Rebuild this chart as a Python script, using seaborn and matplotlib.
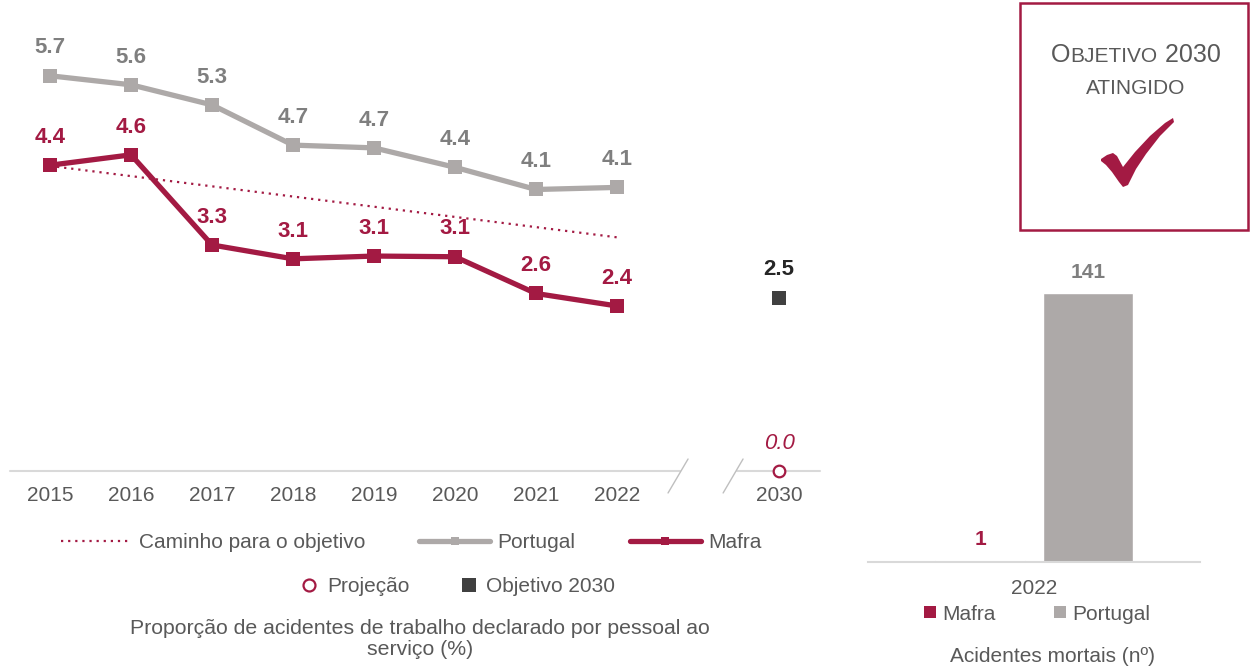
import matplotlib
matplotlib.use("Agg")
import matplotlib.pyplot as plt
import seaborn as sns
import pandas as pd
from matplotlib.lines import Line2D
from matplotlib.patches import Rectangle, Polygon
from matplotlib.offsetbox import TextArea, HPacker, AnnotationBbox

# data
years = ["2015", "2016", "2017", "2018", "2019", "2020", "2021", "2022"]
portugal = [5.70, 5.57, 5.28, 4.70, 4.66, 4.38, 4.06, 4.09]
mafra = [4.41, 4.56, 3.26, 3.06, 3.10, 3.09, 2.56, 2.38]
trend_years = ["2015", "2022"]
trend = [4.40, 3.37]
target_year = "2030"
target = [2.5]
projection = [0.0]

deaths_year = "2022"
deaths_series = ["Mafra", "Portugal"]
deaths = [1, 141]

CRIMSON = "#A31A43"
GRAY = "#ADA9A8"
LABEL_GRAY = "#7F7F7F"
DARK = "#404040"
TEXT = "#595959"
AXIS = "#D9D9D9"

W, H = 1253, 670


def main():
    sns.set_theme(style="white")
    plt.rcParams['font.family'] = ['Liberation Sans', 'DejaVu Sans']
    fig = plt.figure(figsize=(W / 100, H / 100), dpi=100)

    # x positions: one slot per year, 2030 after a break
    pos = {y: i for i, y in enumerate(years)}
    pos[target_year] = len(years) + 1
    xs = [pos[y] for y in years]

    # ---- main line chart ----
    ax = fig.add_axes([10 / W, (H - 471) / H, 810 / W, 450 / H])
    sns.lineplot(x=[pos[y] for y in trend_years], y=trend, ax=ax, color=CRIMSON,
                 lw=1.6, linestyle=(0, (1, 2.2)), zorder=2)
    sns.lineplot(x=xs, y=portugal, ax=ax, color=GRAY, lw=3.8, marker="s",
                 markersize=9.5, markeredgewidth=0, zorder=3)
    sns.lineplot(x=xs, y=mafra, ax=ax, color=CRIMSON, lw=3.8, marker="s",
                 markersize=9.5, markeredgewidth=0, zorder=4)
    sns.scatterplot(x=[pos[target_year]], y=target, ax=ax, marker="s", s=90,
                    color=DARK, linewidth=0, zorder=4)
    sns.scatterplot(x=[pos[target_year]], y=projection, ax=ax, marker="o", s=70,
                    color="white", edgecolor=CRIMSON, linewidth=1.6, zorder=5,
                    clip_on=False)

    lab = dict(textcoords="offset points", xytext=(0, 20), ha="center",
               va="center", fontsize=16, fontweight="bold")
    for x, v in zip(xs, portugal):
        ax.annotate(f"{v:.1f}", (x, v), color=LABEL_GRAY, **lab)
    for x, v in zip(xs, mafra):
        ax.annotate(f"{v:.1f}", (x, v), color=CRIMSON, **lab)
    ax.annotate(f"{target[0]:.1f}", (pos[target_year], target[0]), color="#262626", **lab)
    ax.annotate(f"{projection[0]:.1f}", (pos[target_year], projection[0]),
                textcoords="offset points", xytext=(0, 20), ha="center", va="center",
                fontsize=16, fontstyle="italic", color=CRIMSON)

    ax.set_xlim(-0.494, 9.506)
    ax.set_ylim(0, 6.49)
    ax.set_xticks(xs + [pos[target_year]])
    ax.set_xticklabels(years + [target_year])
    ax.set_yticks([])
    ax.tick_params(axis="x", length=0, pad=11, labelsize=15, labelcolor=TEXT)
    for s in ax.spines.values():
        s.set_visible(False)

    # broken x axis
    ax.plot([-0.494, 7.78], [0, 0], color=AXIS, lw=1.5, clip_on=False, zorder=1)
    ax.plot([8.48, 9.506], [0, 0], color=AXIS, lw=1.5, clip_on=False, zorder=1)
    ax.plot([7.63, 7.877], [-0.317, 0.173], color="#BFBFBF", lw=1, clip_on=False)
    ax.plot([8.31, 8.556], [-0.317, 0.173], color="#BFBFBF", lw=1, clip_on=False)

    h1 = [Line2D([], [], color=CRIMSON, lw=1.6, ls=(0, (1, 2.2))),
          Line2D([], [], color=GRAY, lw=3.8, marker="s", ms=6, mew=0),
          Line2D([], [], color=CRIMSON, lw=3.8, marker="s", ms=6, mew=0)]
    fig.legend(h1, ["Caminho para o objetivo", "Portugal", "Mafra"], ncol=3,
               loc="center", bbox_to_anchor=(411 / W, 1 - 543 / H), frameon=False,
               fontsize=15, handlelength=3.4, handletextpad=0.35,
               columnspacing=2.6, labelcolor=TEXT)
    h2 = [Line2D([], [], ls="none", marker="o", ms=8.6, mfc="white", mec=CRIMSON, mew=1.6),
          Line2D([], [], ls="none", marker="s", ms=9.4, color=DARK, mew=0)]
    fig.legend(h2, ["Projeção", "Objetivo 2030"], ncol=2, loc="center",
               bbox_to_anchor=(458 / W, 1 - 587 / H), frameon=False, fontsize=15,
               handlelength=0.8, handletextpad=0.45, columnspacing=2.45,
               labelcolor=TEXT)
    fig.text(420 / W, 1 - 639 / H,
             "Proporção de acidentes de trabalho declarado por pessoal ao\nserviço (%)",
             ha="center", va="center", fontsize=15.3, color=TEXT, linespacing=1.15)

    # ---- objective box ----
    fig.add_artist(Rectangle((1020 / W, 1 - 230 / H), 228 / W, 227 / H,
                             transform=fig.transFigure, fill=False, ec=CRIMSON, lw=1.8))
    big = dict(fontsize=18, color=TEXT)
    small = dict(fontsize=15, color=TEXT)
    row = HPacker(children=[TextArea("O", textprops=big),
                            TextArea("BJETIVO", textprops=small),
                            TextArea(" 2030", textprops=big)],
                  align="baseline", pad=0, sep=0)
    fig.add_artist(AnnotationBbox(row, (1136 / W, 1 - 55 / H), xycoords="figure fraction",
                                  frameon=False, box_alignment=(0.5, 0.5)))
    fig.text(1136 / W, 1 - 89 / H, "ATINGIDO", ha="center", va="center", **small)
    check = [(1101, 159), (1107, 155), (1113, 153), (1117, 156), (1123, 167),
             (1135, 152), (1150, 136), (1165, 123), (1173, 118), (1174, 122),
             (1160, 136), (1146, 154), (1136, 169), (1128, 185), (1123, 187),
             (1119, 182), (1112, 172), (1106, 165), (1101, 161)]
    fig.add_artist(Polygon([(x / W, 1 - y / H) for x, y in check], closed=True,
                           transform=fig.transFigure, fc=CRIMSON, ec="none"))

    # ---- bar chart ----
    ax2 = fig.add_axes([868 / W, (H - 562) / H, 332 / W, 305 / H])
    df = pd.DataFrame({"ano": [deaths_year] * len(deaths), "serie": deaths_series,
                       "valor": deaths})
    sns.barplot(data=df, x="ano", y="valor", hue="serie", palette=[CRIMSON, GRAY],
                width=0.8, gap=0.167, saturation=1, legend=False, ax=ax2)
    for cont, c in zip(ax2.containers, [CRIMSON, LABEL_GRAY]):
        ax2.bar_label(cont, fmt="%d", padding=8, fontsize=15, fontweight="bold", color=c)
    ax2.set_xlim(-0.615, 0.615)
    ax2.set_ylim(0, 159.9)
    ax2.set_xlabel("")
    ax2.set_ylabel("")
    ax2.set_yticks([])
    ax2.tick_params(axis="x", length=0, pad=12, labelsize=15, labelcolor=TEXT)
    for k, s in ax2.spines.items():
        s.set_visible(k == "bottom")
    ax2.spines["bottom"].set_color(AXIS)
    ax2.spines["bottom"].set_linewidth(1.5)

    h3 = [Line2D([], [], ls="none", marker="s", ms=8, color=CRIMSON, mew=0),
          Line2D([], [], ls="none", marker="s", ms=8, color=GRAY, mew=0)]
    fig.legend(h3, deaths_series, ncol=2, loc="center",
               bbox_to_anchor=(1037 / W, 1 - 614 / H), frameon=False, fontsize=15,
               handlelength=0.6, handletextpad=0.3, columnspacing=2.8,
               labelcolor=TEXT)
    fig.text(1052 / W, 1 - 657 / H, "Acidentes mortais (nº)", ha="center",
             va="center", fontsize=15, color=TEXT)

    fig.savefig("out.png", dpi=100)
    plt.close(fig)


if __name__ == "__main__":
    main()
